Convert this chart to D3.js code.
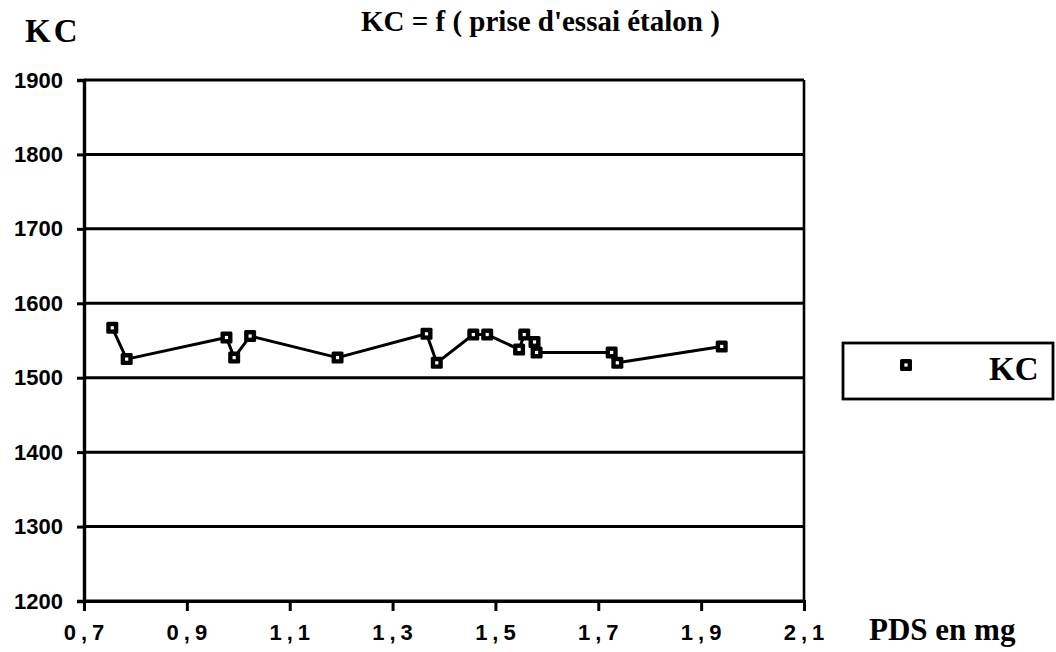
<!DOCTYPE html>
<html>
<head>
<meta charset="utf-8">
<script src="https://cdn.jsdelivr.net/npm/d3@7"></script>
<style>
  body { margin: 0; background: #fff; }
  svg { display: block; }
  .tick text { font-family: "Liberation Sans", Arial, sans-serif; font-weight: bold; font-size: 22px; fill: #000; }
  .serif { font-family: "Liberation Serif", "Times New Roman", serif; font-weight: bold; fill: #000; }
</style>
</head>
<body>
<svg id="chart" width="1056" height="652"></svg>
<script>
// PDS en mg
var pds = [0.755, 0.783, 0.977, 0.992, 1.023, 1.193, 1.366, 1.386, 1.457, 1.484,
           1.546, 1.556, 1.576, 1.580, 1.726, 1.737, 1.940]
// KC
var kc = [1567, 1525, 1554, 1527, 1556, 1527, 1559, 1520, 1558, 1558,
          1538, 1558, 1548, 1534, 1534, 1520, 1542]
var xTicks = [0.7, 0.9, 1.1, 1.3, 1.5, 1.7, 1.9, 2.1]
var yTicks = [1200, 1300, 1400, 1500, 1600, 1700, 1800, 1900]

var svg = d3.select('#chart')
var plotL = 84, plotR = 804, plotT = 80, plotB = 601

var x = d3.scaleLinear().domain([0.7, 2.1]).range([plotL, plotR])
var y = d3.scaleLinear().domain([1200, 1900]).range([plotB, plotT])

var data = pds.map(function(d, i) { return {x: d, y: kc[i]} })

// gridlines
svg.append('g')
    .selectAll('line')
    .data(yTicks)
    .enter()
    .append('line')
    .attr('x1', plotL)
    .attr('x2', plotR)
    .attr('y1', function(d) { return y(d) })
    .attr('y2', function(d) { return y(d) })
    .attr('stroke', '#000')
    .attr('stroke-width', 3)

// right border
svg.append('line')
    .attr('x1', plotR).attr('x2', plotR)
    .attr('y1', plotT).attr('y2', plotB)
    .attr('stroke', '#000').attr('stroke-width', 2.6)

var fmt = d3.format('.1f')

var xAxis = svg.append('g')
    .attr('transform', 'translate(0,' + plotB + ')')
    .call(d3.axisBottom(x).tickValues(xTicks).tickSize(10).tickPadding(13)
        .tickFormat(function(d) { return fmt(d).replace('.', ',') }))
xAxis.select('.domain').attr('stroke-width', 3)
xAxis.selectAll('.tick line').attr('stroke-width', 3)
xAxis.selectAll('.tick text').attr('letter-spacing', '5px').attr('dx', '2px')

var yAxis = svg.append('g')
    .attr('transform', 'translate(' + plotL + ',0)')
    .call(d3.axisLeft(y).tickValues(yTicks).tickSize(7).tickPadding(14)
        .tickFormat(d3.format('d')))
yAxis.select('.domain').attr('stroke-width', 3.4)
yAxis.selectAll('.tick line').attr('stroke-width', 3)

// series
var line = d3.line()
    .x(function(d) { return x(d.x) })
    .y(function(d) { return y(d.y) })

svg.append('path')
    .datum(data)
    .attr('d', line)
    .attr('fill', 'none')
    .attr('stroke', '#000')
    .attr('stroke-width', 3)
    .attr('stroke-linejoin', 'round')

function marker(sel) {
    sel.append('rect')
        .attr('x', -6).attr('y', -6)
        .attr('width', 12).attr('height', 12)
        .attr('rx', 1.5)
        .attr('fill', '#000')
    sel.append('rect')
        .attr('x', -1.6).attr('y', -1.6)
        .attr('width', 3.2).attr('height', 3.2)
        .attr('fill', '#fff')
}

svg.append('g')
    .selectAll('g')
    .data(data)
    .enter()
    .append('g')
    .attr('transform', function(d) { return 'translate(' + x(d.x) + ',' + y(d.y) + ')' })
    .call(marker)

// texts
svg.append('text')
    .attr('class', 'serif')
    .attr('x', 361).attr('y', 31)
    .attr('font-size', 29)
    .text("KC = f ( prise d'essai étalon )")

svg.append('text')
    .attr('class', 'serif')
    .attr('x', 25).attr('y', 42)
    .attr('font-size', 33)
    .attr('letter-spacing', '3px')
    .text('KC')

svg.append('text')
    .attr('class', 'serif')
    .attr('x', 869).attr('y', 640)
    .attr('font-size', 31)
    .text('PDS en mg')

// legend
var legend = svg.append('g')
legend.append('rect')
    .attr('x', 843).attr('y', 343)
    .attr('width', 210).attr('height', 56)
    .attr('fill', '#fff')
    .attr('stroke', '#000')
    .attr('stroke-width', 2.8)
legend.append('g')
    .attr('transform', 'translate(906,365)')
    .call(marker)
legend.append('text')
    .attr('class', 'serif')
    .attr('x', 989).attr('y', 380)
    .attr('font-size', 33)
    .text('KC')
</script>
</body>
</html>
